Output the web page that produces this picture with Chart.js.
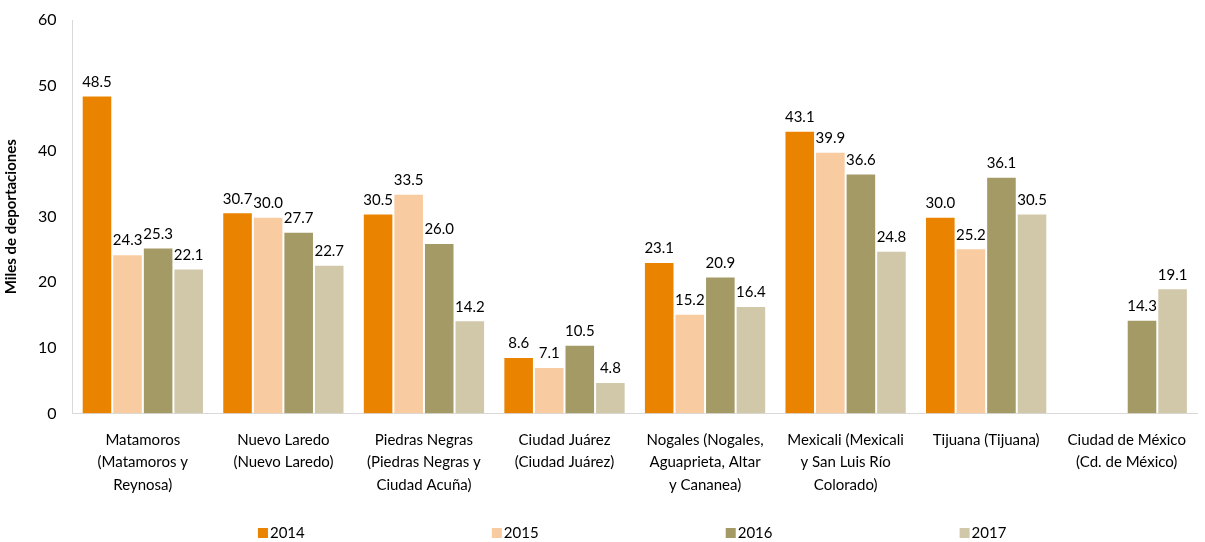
<!DOCTYPE html>
<html>
<head>
<meta charset="utf-8">
<script src="https://cdn.jsdelivr.net/npm/chart.js@4/dist/chart.umd.min.js"></script>
<style>
  html, body { margin: 0; padding: 0; background: #fff; }
  #wrap { width: 1205px; height: 542px; }
</style>
</head>
<body>
<div id="wrap"><canvas id="deportChart"></canvas></div>
<script>
const cities = [
  ["Matamoros", "(Matamoros y", "Reynosa)"],
  ["Nuevo Laredo", "(Nuevo Laredo)"],
  ["Piedras Negras", "(Piedras Negras y", "Ciudad Acuña)"],
  ["Ciudad Juárez", "(Ciudad Juárez)"],
  ["Nogales (Nogales,", "Aguaprieta, Altar", "y Cananea)"],
  ["Mexicali (Mexicali", "y San Luis Río", "Colorado)"],
  ["Tijuana (Tijuana)"],
  ["Ciudad de México", "(Cd. de México)"]
];
const years = ["2014", "2015", "2016", "2017"];
const v2014 = [48.5, 30.7, 30.5, 8.6, 23.1, 43.1, 30.0, null];
const v2015 = [24.3, 30.0, 33.5, 7.1, 15.2, 39.9, 25.2, null];
const v2016 = [25.3, 27.7, 26.0, 10.5, 20.9, 36.6, 36.1, 14.3];
const v2017 = [22.1, 22.7, 14.2, 4.8, 16.4, 24.8, 30.5, 19.1];
const yTicks = [0, 10, 20, 30, 40, 50, 60];

const colors = ["#E98300", "#F9CBA0", "#A39A66", "#D1C8AA"];
const FONT = "Lato, 'Open Sans', sans-serif";

// value labels above each bar
const barLabels = {
  id: "barLabels",
  afterDatasetsDraw(chart) {
    const ctx = chart.ctx;
    ctx.save();
    ctx.font = "15px " + FONT;
    ctx.fillStyle = "#000";
    ctx.textAlign = "center";
    ctx.textBaseline = "bottom";
    chart.data.datasets.forEach((ds, i) => {
      chart.getDatasetMeta(i).data.forEach((bar, j) => {
        const v = ds.data[j];
        if (v == null) return;
        ctx.fillText(v.toFixed(1), bar.x, bar.y - 6);
      });
    });
    ctx.restore();
  }
};

// legend spread across the bottom of the plot area
const wideLegend = {
  id: "wideLegend",
  afterDraw(chart) {
    const ctx = chart.ctx;
    const area = chart.chartArea;
    const step = area.width * 0.208;
    const itemW = 52;
    const x0 = (area.left + area.right) / 2 - (step * 3 + itemW) / 2;
    const y = chart.height - 9;
    ctx.save();
    ctx.font = "15px " + FONT;
    ctx.textBaseline = "middle";
    ctx.textAlign = "left";
    chart.data.datasets.forEach((ds, i) => {
      const x = x0 + i * step;
      ctx.fillStyle = ds.backgroundColor;
      ctx.fillRect(x, y - 5, 10, 10);
      ctx.fillStyle = "#000";
      ctx.fillText(ds.label, x + 12, y);
    });
    ctx.restore();
  }
};

const datasets = [v2014, v2015, v2016, v2017].map((vals, i) => ({
  label: years[i],
  data: vals,
  backgroundColor: colors[i],
  borderColor: "#fff",
  borderWidth: 1,
  categoryPercentage: 0.87,
  barPercentage: 1.0
}));

new Chart(document.getElementById("deportChart"), {
  type: "bar",
  data: { labels: cities, datasets },
  options: {
    responsive: true,
    maintainAspectRatio: false,
    animation: false,
    layout: { padding: { left: 0, right: 8, top: 8, bottom: 31 } },
    plugins: {
      tooltip: { enabled: false },
      legend: { display: false }
    },
    scales: {
      x: {
        grid: { display: false, drawTicks: false },
        border: { color: "#d9d9d9", width: 1 },
        ticks: {
          color: "#000",
          font: { family: FONT, size: 15, lineHeight: 1.5 },
          maxRotation: 0,
          autoSkip: false,
          padding: 15
        }
      },
      y: {
        min: 0,
        max: 60,
        afterBuildTicks(axis) {
          axis.ticks = yTicks.map(v => ({ value: v }));
        },
        grid: { display: false, drawTicks: false },
        border: { color: "#d9d9d9", width: 1 },
        ticks: {
          color: "#000",
          font: { family: FONT, size: 16, lineHeight: 0.5 },
          padding: 16
        },
        title: {
          display: true,
          text: "Miles de deportaciones",
          color: "#000",
          font: { family: FONT, size: 15, weight: "bold" },
          padding: { top: 2, bottom: 2 }
        }
      }
    }
  },
  plugins: [barLabels, wideLegend]
});
</script>
</body>
</html>
